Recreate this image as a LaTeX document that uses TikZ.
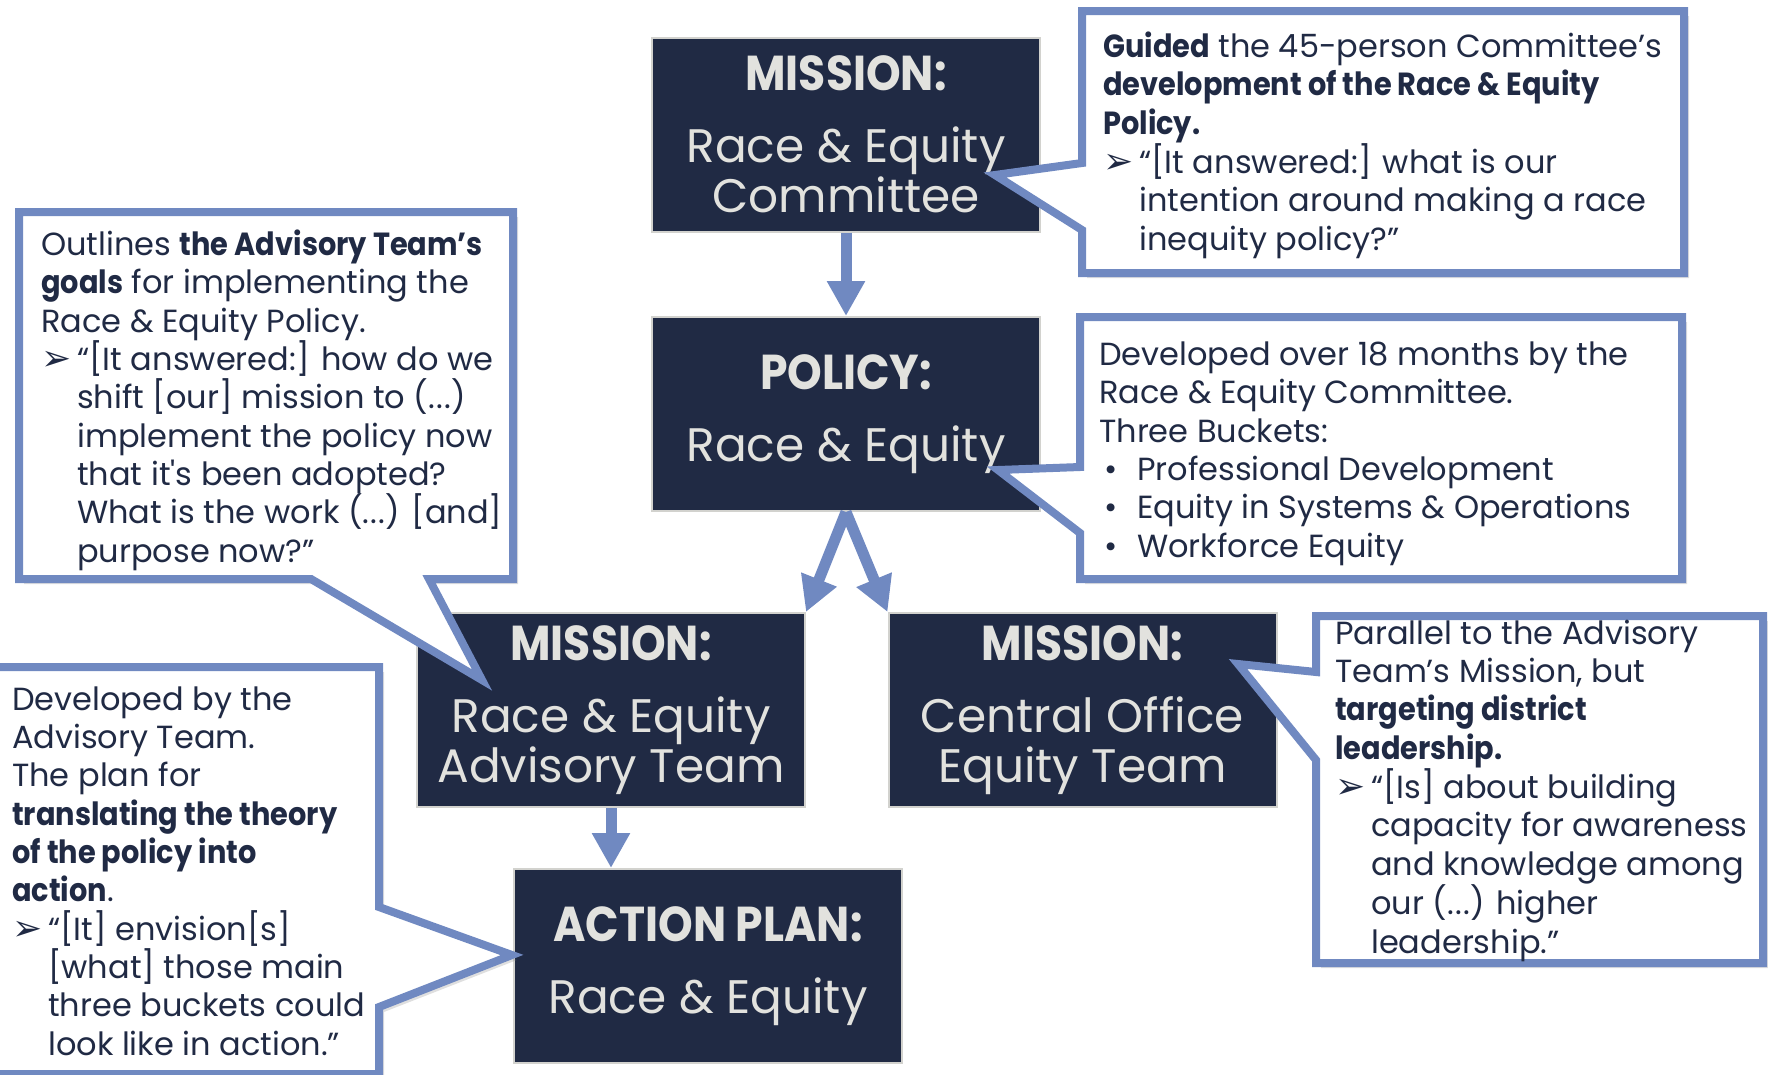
\documentclass[tikz,border=0pt]{standalone}
\usepackage{fontspec}
\setmainfont{Poppins}[BoldFeatures={FakeStretch=0.9}]
\newfontfamily\symfont{DejaVu Sans}
\usetikzlibrary{arrows.meta,shadows}
\definecolor{navy}{RGB}{32,42,68}
\definecolor{calloutblue}{RGB}{112,137,193}
\definecolor{boxtext}{RGB}{226,226,222}
\definecolor{boxedge}{RGB}{210,210,206}
\newcommand{\tipmark}{\makebox[36pt][l]{\symfont\fontsize{36}{38}\selectfont ➢}}
\newcommand{\quoteindent}{\hspace*{36pt}}
\newcommand{\bucket}{\makebox[38pt][l]{\hspace*{5pt}•}}
\newcommand{\omitted}{(.\kern1.5pt.\kern1.5pt.)}
\newcommand{\stagehead}[1]{{\fontsize{49}{50}\selectfont\bfseries #1}\\[22pt]}
\tikzset{
  stage/.style={fill=navy, draw=boxedge, line width=2pt, text=boxtext,
    minimum width=388pt, minimum height=194pt, inner sep=0pt, align=center,
    font=\fontsize{47}{50}\selectfont},
  bubble/.style={draw=calloutblue, line width=8pt, fill=white, line join=miter,
    drop shadow={shadow xshift=5pt, shadow yshift=-5pt, opacity=0.25}},
  note/.style={anchor=base west, inner sep=0pt, align=left, text=navy,
    font=\fontsize{32}{38.3}\selectfont},
  flow/.style={draw=calloutblue, line width=11pt, -{Triangle[width=36pt,length=35pt]}}
}
\begin{document}
\begin{tikzpicture}[x=1pt,y=-1pt]
\useasboundingbox (0,0) rectangle (1768,1074);
\clip (0,0) rectangle (1768,1074);
% stages
\node[stage] (committee) at (846,134.5) {\stagehead{MISSION:}Race \& Equity\\Committee};
\node[stage] (policy) at (846,414) {\stagehead{POLICY:}Race \& Equity};
\node[stage] (advisory) at (611,710) {\stagehead{MISSION:}Race \& Equity\\Advisory Team};
\node[stage] (central) at (1082.5,710) {\stagehead{MISSION:}Central Office\\Equity Team};
\node[stage] (action) at (708,966) {\stagehead{ACTION PLAN:}Race \& Equity};
% arrows
\draw[flow] (committee.south) -- (policy.north);
\draw[flow] (policy.south) -- (advisory.north east);
\draw[flow] (policy.south) -- (central.north west);
\draw[flow] (advisory.south) -- (advisory.south |- action.north);
% callouts
\draw[bubble] (1082,11) -- (1684,11) -- (1684,273) -- (1082,273) -- (1082,230) -- (995,175) -- (1082,163) -- cycle;
\draw[bubble] (1080,317) -- (1682,317) -- (1682,579) -- (1080,579) -- (1080,533) -- (998,470) -- (1080,467) -- cycle;
\draw[bubble] (19,212) -- (513,212) -- (513,579) -- (429,579) -- (482,680) -- (311,579) -- (19,579) -- cycle;
\draw[bubble] (-10,667) -- (379,667) -- (379,907) -- (512,955) -- (379,1007) -- (379,1074) -- (-10,1074) -- cycle;
\draw[bubble] (1316,616) -- (1763,616) -- (1763,963) -- (1316,963) -- (1316,760) -- (1238,664) -- (1316,672) -- cycle;
% callout texts (placed at the baseline of their last line)
\node[note] (guided) at (1103,250) {\textbf{Guided} the 45-person Committee’s\\
  \textbf{development of the Race \& Equity}\\
  \textbf{Policy.}\\
  \tipmark“[It answered:] what is our\\
  \quoteindent intention around making a race\\
  \quoteindent inequity policy?”};
\node[note] (developed) at (1099,557) {Developed over 18 months by the\\
  Race \& Equity Committee.\\
  Three Buckets:\\
  \bucket Professional Development\\
  \bucket Equity in Systems \& Operations\\
  \bucket Workforce Equity};
\node[note] (outlines) at (41,562) {Outlines \textbf{the Advisory Team’s}\\
  \textbf{goals} for implementing the\\
  Race \& Equity Policy.\\
  \tipmark“[It answered:] how do we\\
  \quoteindent shift [our] mission to \omitted\\
  \quoteindent implement the policy now\\
  \quoteindent that it\textquotesingle s been adopted?\\
  \quoteindent What is the work \omitted{} [and]\\
  \quoteindent purpose now?”};
\node[note] (plan) at (12,1055) {Developed by the\\
  Advisory Team.\\
  The plan for\\
  \textbf{translating the theory}\\
  \textbf{of the policy into}\\
  \textbf{action}.\\
  \tipmark“[It] envision[s]\\
  \quoteindent [what] those main\\
  \quoteindent three buckets could\\
  \quoteindent look like in action.”};
\node[note] (parallel) at (1335,953) {Parallel to the Advisory\\
  Team’s Mission, but\\
  \textbf{targeting district}\\
  \textbf{leadership.}\\
  \tipmark“[Is] about building\\
  \quoteindent capacity for awareness\\
  \quoteindent and knowledge among\\
  \quoteindent our \omitted{} higher\\
  \quoteindent leadership.”};
\end{tikzpicture}
\end{document}
